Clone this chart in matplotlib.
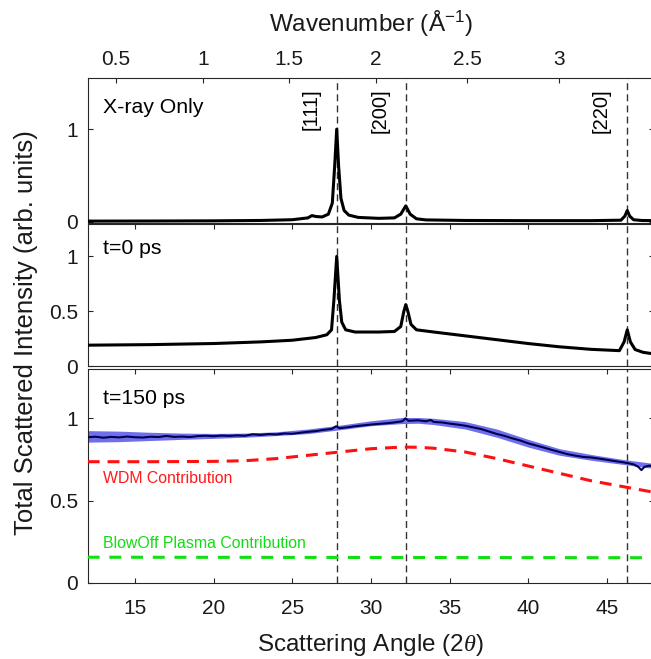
import matplotlib
matplotlib.use("Agg")
import matplotlib.pyplot as plt

plt.rcParams["font.family"] = ["Liberation Sans", "DejaVu Sans"]
plt.rcParams["mathtext.fontset"] = "custom"
plt.rcParams["mathtext.rm"] = "Liberation Sans"
plt.rcParams["mathtext.it"] = "Liberation Serif:italic"
plt.rcParams["mathtext.default"] = "regular"

# ── Data ──────────────────────────────────────────────────────────────────────
# top axis: wavenumber tick labels and the scattering angle they sit at
q_tick_angle = [13.78, 19.31, 24.78, 30.33, 36.11, 41.96]
q_tick_label = ["0.5", "1", "1.5", "2", "2.5", "3"]

peak_angle = [27.83, 32.22, 46.30]
peak_label = ["[111]", "[200]", "[220]"]

# panel 1: X-ray only
xray_x = [12, 16, 20, 23, 25, 26.0, 26.25, 26.5, 26.9, 27.3, 27.55, 27.7, 27.83,
          27.95, 28.1, 28.3, 28.6, 29.2, 30.5, 31.5, 31.9, 32.22, 32.5, 32.9, 33.5,
          36, 40, 44, 45.9, 46.15, 46.3, 46.45, 46.7, 47.2, 48]
xray_y = [0.005, 0.006, 0.008, 0.012, 0.02, 0.04, 0.065, 0.055, 0.05, 0.08, 0.2,
          0.6, 1.0, 0.6, 0.25, 0.12, 0.07, 0.045, 0.035, 0.04, 0.08, 0.17, 0.08,
          0.03, 0.018, 0.012, 0.01, 0.01, 0.015, 0.06, 0.12, 0.06, 0.02, 0.012, 0.01]

# panel 2: t = 0 ps
t0_x = [12, 16, 20, 23, 25, 26.5, 27.2, 27.5, 27.65, 27.83, 28.0, 28.15, 28.4, 29,
        30.5, 31.5, 31.9, 32.1, 32.22, 32.35, 32.55, 32.9, 34, 36, 38, 40, 42, 44,
        45.8, 46.1, 46.3, 46.5, 46.8, 47.3, 48]
t0_y = [0.19, 0.195, 0.205, 0.22, 0.235, 0.26, 0.285, 0.33, 0.6, 1.0, 0.6, 0.4,
        0.33, 0.31, 0.31, 0.315, 0.36, 0.5, 0.56, 0.5, 0.38, 0.33, 0.31, 0.275,
        0.24, 0.205, 0.175, 0.152, 0.14, 0.22, 0.33, 0.22, 0.15, 0.125, 0.11]

# panel 3: t = 150 ps measurement
t150_x = [12, 12.5, 13, 13.5, 14, 14.5, 15, 15.5, 16, 16.5, 17, 17.5, 18, 18.5, 19,
          19.5, 20, 20.5, 21, 21.5, 22, 22.5, 23, 23.5, 24, 24.5, 25, 25.5, 26, 26.5,
          27, 27.5, 27.8, 28, 28.5, 29, 29.5, 30, 30.5, 31, 31.5, 32, 32.2, 32.4, 33,
          33.5, 33.8, 34, 34.5, 35, 35.5, 36, 36.5, 37, 37.5, 38, 38.5, 39, 39.5, 40,
          40.5, 41, 41.5, 42, 42.5, 43, 43.5, 44, 44.5, 45, 45.5, 46, 46.3, 46.7, 47,
          47.2, 47.4, 47.7, 48]
t150_y = [.885, .888, .882, .887, .884, .889, .885, .883, .888, .886, .893, .887,
          .889, .886, .892, .894, .891, .895, .893, .896, .894, .903, .899, .904,
          .902, .908, .906, .912, .918, .922, .930, .935, .952, .940, .945, .952,
          .957, .962, .966, .970, .975, .982, 1.0, .985, .988, .982, .990, .978,
          .975, .968, .962, .955, .945, .935, .920, .905, .893, .878, .865, .848,
          .835, .822, .808, .795, .782, .773, .765, .762, .755, .748, .740, .733,
          .728, .720, .705, .685, .705, .712, .708]

band_x = [12, 14, 16, 18, 20, 22, 24, 26, 28, 30, 32, 33, 34, 36, 38, 40, 42, 44, 46, 48]
band_hi = [.925, .922, .915, .910, .908, .910, .918, .935, .958, .985, 1.005, 1.005,
           1.0, .98, .935, .872, .815, .78, .75, .725]
band_lo = [.855, .858, .865, .872, .878, .885, .895, .907, .930, .955, .968, .970,
           .962, .935, .885, .825, .775, .745, .72, .695]

wdm_x = [12, 16, 20, 22, 24, 26, 28, 30, 32, 33, 34, 36, 38, 40, 42, 44, 46, 48]
wdm_y = [.736, .736, .738, .742, .755, .775, .795, .815, .825, .824, .818, .795,
         .755, .71, .665, .62, .585, .55]

plasma_x = [12, 48]
plasma_y = [.155, .152]

# ── Layout ────────────────────────────────────────────────────────────────────
W, H = 651, 659
AX_L, AX_R = 87.7, 654.0


def frac(top, bottom):
    return [AX_L / W, 1 - bottom / H, (AX_R - AX_L) / W, (bottom - top) / H]


fig = plt.figure(figsize=(W / 100, H / 100), dpi=100)
ax1 = fig.add_axes(frac(78.3, 222.5))
ax2 = fig.add_axes(frac(223.5, 366.0))
ax3 = fig.add_axes(frac(369.0, 582.7))

AX_COL = "#262626"
for ax in (ax1, ax2, ax3):
    ax.set_xlim(12, 48)
    for s in ax.spines.values():
        s.set_color(AX_COL)
        s.set_linewidth(0.8)
    ax.tick_params(direction="in", length=3.6, width=0.8, colors=AX_COL,
                   labelcolor="#1a1a1a", labelsize=15, right=True)
    ax.tick_params(axis="y", pad=6.8)
    for a in peak_angle:
        ax.axvline(a, color="#333333", lw=1.0, ls=(0, (5, 3)), zorder=1)

# panel 1
ax1.plot(xray_x, xray_y, color="black", lw=2.2, zorder=3)
ax1.set_ylim(-0.01, 1.55)
ax1.set_yticks([0, 1], ["0", "1"])
ax1.set_xticks(q_tick_angle, q_tick_label)
ax1.tick_params(axis="x", top=True, bottom=False, labeltop=True,
                labelbottom=False, pad=6.4)
ax1.text(13.0, 1.17, "X-ray Only", fontsize=15.3, va="baseline")
for a, lab in zip(peak_angle, peak_label):
    ax1.text(a - 1.65, 1.44, lab, rotation=90, fontsize=14.5,
             ha="center", va="top")

# panel 2
ax2.plot(t0_x, t0_y, color="black", lw=2.2, zorder=3)
ax2.set_ylim(0, 1.3)
ax2.set_yticks([0, 0.5, 1], ["0", "0.5", "1"])
ax2.set_xticks([15, 20, 25, 30, 35, 40, 45])
ax2.tick_params(axis="x", top=True, bottom=False, labelbottom=False)
ax2.text(13.0, 1.025, "t=0 ps", fontsize=15.3, va="baseline")

# panel 3
ax3.fill_between(band_x, band_lo, band_hi, color="#6f6fee", lw=0, zorder=2)
ax3.plot(t150_x, t150_y, color="#000050", lw=1.5, zorder=3)
ax3.plot(wdm_x, wdm_y, color="#ff1010", lw=2.2, ls=(0, (3.9, 2.6)), zorder=3)
ax3.plot(plasma_x, plasma_y, color="#10e010", lw=2.2, ls=(0, (3.9, 3.2)), zorder=3)
ax3.set_ylim(0, 1.3)
ax3.set_yticks([0, 0.5, 1], ["0", "0.5", "1"])
ax3.set_xticks([15, 20, 25, 30, 35, 40, 45])
ax3.tick_params(axis="x", top=True, pad=11.5)
ax3.text(13.0, 1.09, "t=150 ps", fontsize=15.3, va="baseline")
ax3.text(13.0, 0.604, "WDM Contribution", fontsize=11.4, color="#ff1a1a",
         va="baseline")
ax3.text(13.0, 0.209, "BlowOff Plasma Contribution", fontsize=11.4,
         color="#14dc14", va="baseline")

# axis titles
fig.text(370.8 / W, 1 - 31.7 / H, "Wavenumber (Å$^{-1}$)", fontsize=17.5,
         ha="center", va="baseline", color="#1a1a1a")
fig.text(370.8 / W, 1 - 651.5 / H, r"Scattering Angle (2$\mathit{\theta}$)",
         fontsize=17.5, ha="center", va="baseline", color="#1a1a1a")
fig.text(26 / W, 1 - 332.5 / H, "Total Scattered Intensity (arb. units)",
         fontsize=18.5, rotation=90, ha="center", va="center", color="#1a1a1a")

fig.savefig("out.png", dpi=100)
